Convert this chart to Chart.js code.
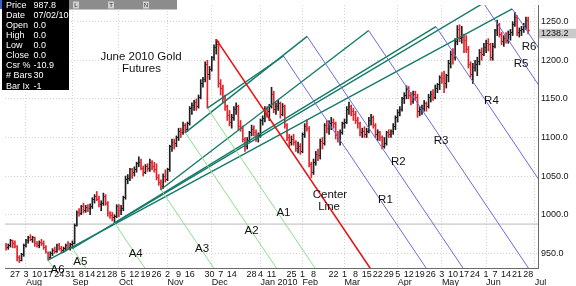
<!DOCTYPE html>
<html>
<head>
<meta charset="utf-8">
<script src="https://cdn.jsdelivr.net/npm/chart.js@4"></script>
<style>
  html, body { margin: 0; padding: 0; background: #fff; }
</style>
</head>
<body>
<canvas id="chart" width="576" height="286"></canvas>
<script>
// trading calendar
const startDate = '2009-07-20';
const endDate = '2010-07-02';
const holidays = ['2009-09-07', '2009-11-26', '2009-12-25', '2010-01-01', '2010-01-18', '2010-02-15', '2010-04-02', '2010-05-31'];

// labelled week ticks and month labels
const weekTicks = ['2009-07-27', '2009-08-03', '2009-08-10', '2009-08-17', '2009-08-24', '2009-08-31', '2009-09-08', '2009-09-14',
    '2009-09-21', '2009-09-28', '2009-10-05', '2009-10-12', '2009-10-19', '2009-10-26', '2009-11-02', '2009-11-09', '2009-11-16',
    '2009-11-30', '2009-12-07', '2009-12-14', '2009-12-28', '2010-01-04', '2010-01-11', '2010-01-25', '2010-02-01', '2010-02-08',
    '2010-02-22', '2010-03-01', '2010-03-08', '2010-03-15', '2010-03-22', '2010-03-29', '2010-04-05', '2010-04-12', '2010-04-19',
    '2010-04-26', '2010-05-03', '2010-05-10', '2010-05-17', '2010-05-24', '2010-06-01', '2010-06-07', '2010-06-14', '2010-06-21',
    '2010-06-28'];
const monthStarts = ['2009-08-03', '2009-09-01', '2009-10-01', '2009-11-02', '2009-12-01', '2010-01-04', '2010-02-01', '2010-03-01',
    '2010-04-05', '2010-05-03', '2010-06-01', '2010-07-01'];
const monthNames = ['Aug', 'Sep', 'Oct', 'Nov', 'Dec', 'Jan 2010', 'Feb', 'Mar', 'Apr', 'May', 'Jun', 'Jul'];
const priceTicks = [950, 1000, 1050, 1100, 1150, 1200, 1250];

// daily bars, one per trading day from startDate
const opens = [
    955, 960, 957, 960, 966, 962, 959, 944, 941, 948, 960, 966, 970, 968, 970, 962, 960, 964, 963, 957,
    950, 944, 950, 954, 952, 960, 956, 953, 956, 960, 958, 961, 963, 986, 1003, 1002, 1010, 1006, 1009, 1008,
    1011, 1020, 1024, 1020, 1013, 1015, 1024, 1015, 1002, 999, 996, 998, 1011, 1006, 1008, 1022, 1046, 1047, 1058, 1054,
    1058, 1066, 1068, 1060, 1055, 1062, 1060, 1067, 1063, 1058, 1048, 1042, 1036, 1050, 1046, 1058, 1088, 1094, 1092, 1100,
    1108, 1106, 1116, 1110, 1118, 1138, 1142, 1145, 1140, 1152, 1170, 1175, 1195, 1182, 1188, 1203, 1217, 1220, 1170, 1163,
    1150, 1140, 1128, 1120, 1126, 1136, 1140, 1114, 1112, 1098, 1088, 1096, 1106, 1110, 1106, 1100, 1102, 1122, 1124, 1136,
    1134, 1140, 1156, 1136, 1140, 1144, 1130, 1140, 1116, 1100, 1094, 1098, 1094, 1086, 1088, 1082, 1104, 1114, 1112, 1065,
    1055, 1068, 1078, 1076, 1095, 1092, 1116, 1112, 1118, 1120, 1118, 1102, 1098, 1106, 1118, 1120, 1136, 1140, 1134, 1130,
    1122, 1118, 1106, 1108, 1104, 1108, 1122, 1126, 1116, 1104, 1106, 1100, 1088, 1092, 1106, 1104, 1108, 1114, 1126, 1132,
    1136, 1150, 1154, 1162, 1154, 1146, 1156, 1152, 1134, 1136, 1138, 1144, 1140, 1152, 1156, 1152, 1164, 1168, 1178, 1176,
    1170, 1180, 1196, 1208, 1204, 1224, 1240, 1228, 1230, 1226, 1214, 1195, 1182, 1190, 1194, 1198, 1210, 1208, 1216, 1222,
    1220, 1204, 1218, 1238, 1246, 1234, 1224, 1228, 1226, 1234, 1236, 1246, 1256, 1236, 1238, 1240, 1244, 1252];
const highs = [
    962, 963, 962, 968, 967, 966, 960, 947, 950, 962, 968, 972, 974, 972, 971, 965, 966, 968, 966, 960,
    952, 952, 956, 958, 962, 963, 959, 958, 962, 965, 963, 966, 988, 1005, 1008, 1012, 1015, 1012, 1013, 1014,
    1022, 1026, 1030, 1024, 1018, 1028, 1026, 1017, 1004, 1003, 1000, 1013, 1013, 1012, 1024, 1050, 1052, 1060, 1060, 1062,
    1068, 1075, 1072, 1063, 1065, 1066, 1072, 1070, 1068, 1066, 1052, 1045, 1053, 1058, 1060, 1090, 1098, 1098, 1102, 1112,
    1112, 1120, 1118, 1120, 1140, 1145, 1148, 1150, 1155, 1175, 1178, 1198, 1200, 1192, 1205, 1220, 1227, 1225, 1175, 1168,
    1155, 1142, 1135, 1130, 1140, 1145, 1142, 1122, 1115, 1100, 1100, 1108, 1116, 1115, 1110, 1106, 1124, 1128, 1140, 1140,
    1143, 1165, 1160, 1145, 1148, 1146, 1144, 1142, 1118, 1104, 1102, 1104, 1096, 1094, 1092, 1106, 1118, 1123, 1114, 1068,
    1072, 1082, 1085, 1098, 1100, 1118, 1122, 1122, 1126, 1124, 1120, 1108, 1110, 1120, 1124, 1140, 1146, 1142, 1138, 1134,
    1126, 1120, 1112, 1114, 1112, 1126, 1130, 1128, 1118, 1110, 1108, 1102, 1100, 1108, 1110, 1110, 1118, 1128, 1136, 1140,
    1152, 1158, 1167, 1166, 1158, 1160, 1160, 1156, 1140, 1142, 1148, 1146, 1156, 1160, 1162, 1168, 1170, 1180, 1184, 1186,
    1182, 1200, 1212, 1215, 1228, 1245, 1246, 1244, 1234, 1232, 1218, 1198, 1196, 1200, 1204, 1214, 1216, 1222, 1226, 1228,
    1222, 1222, 1240, 1252, 1248, 1236, 1232, 1236, 1238, 1240, 1250, 1262, 1258, 1242, 1244, 1248, 1256, 1256];
const lows = [
    953, 954, 955, 958, 957, 957, 940, 938, 940, 946, 958, 963, 966, 964, 959, 958, 957, 960, 955, 950,
    941, 943, 947, 950, 951, 954, 950, 951, 953, 955, 954, 956, 962, 985, 998, 1000, 1002, 1003, 1004, 1000,
    1008, 1015, 1018, 1010, 1005, 1012, 1012, 998, 995, 992, 989, 996, 997, 1000, 1005, 1020, 1040, 1044, 1047, 1050,
    1055, 1062, 1058, 1050, 1053, 1056, 1056, 1058, 1055, 1045, 1038, 1032, 1034, 1042, 1044, 1056, 1082, 1085, 1088, 1096,
    1100, 1104, 1106, 1108, 1116, 1130, 1135, 1135, 1138, 1150, 1165, 1172, 1138, 1175, 1186, 1200, 1208, 1165, 1155, 1145,
    1135, 1122, 1115, 1112, 1122, 1130, 1110, 1108, 1094, 1082, 1085, 1094, 1102, 1102, 1095, 1094, 1100, 1116, 1120, 1126,
    1122, 1138, 1132, 1130, 1135, 1125, 1128, 1112, 1096, 1088, 1090, 1090, 1082, 1080, 1078, 1080, 1100, 1108, 1062, 1048,
    1052, 1064, 1070, 1072, 1085, 1090, 1106, 1104, 1110, 1112, 1098, 1094, 1090, 1104, 1112, 1118, 1130, 1128, 1122, 1118,
    1112, 1102, 1100, 1100, 1100, 1106, 1116, 1112, 1100, 1096, 1096, 1085, 1086, 1090, 1100, 1100, 1104, 1110, 1120, 1128,
    1134, 1144, 1150, 1150, 1142, 1144, 1148, 1126, 1128, 1130, 1134, 1134, 1138, 1146, 1148, 1150, 1158, 1162, 1170, 1158,
    1164, 1172, 1190, 1195, 1200, 1220, 1224, 1222, 1210, 1210, 1190, 1178, 1170, 1186, 1180, 1194, 1200, 1206, 1210, 1212,
    1200, 1200, 1216, 1232, 1230, 1220, 1218, 1222, 1222, 1226, 1232, 1244, 1232, 1230, 1232, 1236, 1240, 1234];
const closes = [
    960, 957, 960, 966, 962, 959, 944, 941, 948, 960, 966, 970, 968, 970, 962, 960, 964, 963, 957, 952,
    944, 950, 954, 952, 960, 956, 953, 956, 960, 958, 961, 963, 986, 1003, 1002, 1010, 1006, 1009, 1008, 1011,
    1020, 1024, 1020, 1013, 1015, 1024, 1015, 1002, 999, 996, 998, 1011, 1006, 1008, 1022, 1046, 1047, 1058, 1054, 1058,
    1066, 1068, 1060, 1055, 1062, 1060, 1067, 1063, 1058, 1048, 1042, 1036, 1050, 1046, 1058, 1088, 1094, 1092, 1100, 1108,
    1106, 1116, 1110, 1118, 1138, 1142, 1145, 1140, 1152, 1170, 1175, 1195, 1182, 1188, 1203, 1217, 1220, 1170, 1163, 1150,
    1140, 1128, 1120, 1126, 1136, 1140, 1114, 1112, 1098, 1088, 1096, 1106, 1110, 1106, 1100, 1102, 1122, 1124, 1136, 1134,
    1140, 1156, 1136, 1140, 1144, 1130, 1140, 1116, 1100, 1094, 1098, 1094, 1086, 1088, 1082, 1104, 1114, 1112, 1065, 1055,
    1068, 1078, 1076, 1095, 1092, 1116, 1112, 1118, 1120, 1118, 1102, 1098, 1106, 1118, 1120, 1136, 1140, 1134, 1130, 1122,
    1118, 1106, 1108, 1104, 1108, 1122, 1126, 1116, 1104, 1106, 1100, 1088, 1092, 1106, 1104, 1108, 1114, 1126, 1132, 1136,
    1150, 1154, 1162, 1154, 1146, 1156, 1152, 1134, 1136, 1138, 1144, 1140, 1152, 1156, 1152, 1164, 1168, 1178, 1176, 1170,
    1180, 1196, 1208, 1204, 1224, 1240, 1228, 1230, 1226, 1214, 1195, 1182, 1190, 1194, 1198, 1210, 1208, 1216, 1222, 1220,
    1204, 1218, 1238, 1246, 1234, 1224, 1228, 1226, 1234, 1236, 1246, 1256, 1236, 1238, 1240, 1244, 1252, 1238.2];

// pitchfork drawing
const forkSlope = -4.26;               // $ per trading day, shared by the red, green and blue lines
const centerDate = '2009-12-03';
const centerPrice = 1227.1;
const supportDates = ['2009-11-27', '2009-11-12', '2009-10-28', '2009-09-29', '2009-09-01', '2009-08-17'];
const supportPrices = [1138.1, 1106.3, 1032.6, 989.4, 956.4, 941.1];
const resistBars = [126.4, 137.1, 164.9, 195.3, 216.8, 229.8];
const resistPrices = [1205.5, 1230.9, 1238.5, 1243.6, 1274.1, 1266.5];

const lineLabels = ['A1', 'A2', 'A3', 'A4', 'A5', 'A6', 'Center', 'Line', 'R1', 'R2', 'R3', 'R4', 'R5', 'R6'];
const labelBars = [126.4, 112.0, 89.6, 59.6, 34.6, 24.3, 147.4, 147.0, 172.5, 178.3, 197.6, 220.4, 233.8, 237.4];
const labelPrices = [1002, 979, 956, 949, 939, 928, 1026, 1010, 1019, 1068, 1095, 1147, 1195, 1218];

const infoNames = ['Price', 'Date', 'Open', 'High', 'Low', 'Close', 'Csr %', '# Bars', 'Bar Ix'];
const infoValues = ['987.8', '07/02/10', '0.0', '0.0', '0.0', '0.0', '-10.9', '30', '-1'];
const cursorPrice = 987.8;

const xMin = 0.52, xMax = 241.45;
const yMin = 930.9, yMax = 1271.6;

function buildDays() {
    const out = [];
    const d = new Date(startDate + 'T00:00:00Z');
    const end = new Date(endDate + 'T00:00:00Z');
    while (d <= end) {
        const s = d.toISOString().slice(0, 10);
        const wd = d.getUTCDay();
        if (wd !== 0 && wd !== 6 && !holidays.includes(s)) out.push(s);
        d.setUTCDate(d.getUTCDate() + 1);
    }
    return out;
}
const days = buildDays();
const dayIndex = s => days.indexOf(s);

const upColor = '#1e1e1e';
const downColor = '#e2232b';

function tickImage(color, left) {
    const c = document.createElement('canvas');
    c.width = 3;
    c.height = 1;
    const g = c.getContext('2d');
    g.fillStyle = color;
    g.fillRect(left ? 0 : 2, 0, 1, 1);
    return c;
}
const openUp = tickImage(upColor, true), openDown = tickImage(downColor, true);
const closeUp = tickImage(upColor, false), closeDown = tickImage(downColor, false);
const isUp = closes.map((c, i) => c >= opens[i]);

function ray(bar, price) {
    const len = 120;
    return [{x: bar, y: price}, {x: bar + len, y: price + forkSlope * len}];
}

function lineSet(data, color, width, order) {
    return {
        type: 'line', data: data, borderColor: color, borderWidth: width,
        pointRadius: 0, fill: false, tension: 0, order: order || 1,
        xAxisID: 'x', yAxisID: 'y'
    };
}

const datasets = [];
// red center line
datasets.push(lineSet(ray(dayIndex(centerDate), centerPrice), '#e41414', 1.6));
supportDates.forEach((d, i) => {
    const b = dayIndex(d);
    datasets.push(lineSet([{x: b, y: supportPrices[i]}, {x: resistBars[i], y: resistPrices[i]}], '#147a68', 1.4));
    datasets.push(lineSet(ray(b, supportPrices[i]), '#8ade8a', 1));
    datasets.push(lineSet(ray(resistBars[i], resistPrices[i]), '#6b6bdc', 1));
});
// cursor line
datasets.push(lineSet([{x: xMin, y: cursorPrice}, {x: xMax, y: cursorPrice}], '#b8b8b8', 1, 3));

datasets.push({
    type: 'bar',
    data: highs.map((h, i) => ({x: i, y: [lows[i], h]})),
    backgroundColor: isUp.map(u => u ? upColor : downColor),
    barThickness: 1,
    order: 2,
    xAxisID: 'x', yAxisID: 'y'
});
datasets.push({
    type: 'scatter',
    data: opens.map((o, i) => ({x: i, y: o})),
    pointStyle: isUp.map(u => u ? openUp : openDown),
    pointRadius: 1,
    order: 2,
    xAxisID: 'x', yAxisID: 'y'
});
datasets.push({
    type: 'scatter',
    data: closes.map((c, i) => ({x: i, y: c})),
    pointStyle: isUp.map(u => u ? closeUp : closeDown),
    pointRadius: 1,
    order: 2,
    xAxisID: 'x', yAxisID: 'y'
});

const overlay = {
    id: 'overlay',
    afterDraw(chart) {
        const ctx = chart.ctx;
        const x = chart.scales.x, y = chart.scales.y;
        ctx.save();

        // line labels
        ctx.fillStyle = '#111';
        ctx.font = '11.5px Arial, "Liberation Sans", sans-serif';
        ctx.textAlign = 'center';
        ctx.textBaseline = 'middle';
        lineLabels.forEach((t, i) => {
            ctx.fillText(t, x.getPixelForValue(labelBars[i]), y.getPixelForValue(labelPrices[i]));
        });

        // title
        ctx.fillText('June 2010 Gold', 141, 57);
        ctx.fillText('Futures', 141.5, 69);

        // event strip at the top
        ctx.fillStyle = '#8c8c8c';
        ctx.fillRect(68, 0, 109, 9.5);
        ctx.font = '6px Arial, "Liberation Sans", sans-serif';
        [['L', 73], ['T', 108], ['N', 143]].forEach(m => {
            ctx.fillStyle = '#cfcfcf';
            ctx.fillRect(m[1], 1.5, 6, 7);
            ctx.fillStyle = '#333';
            ctx.fillText(m[0], m[1] + 3, 5);
        });

        // cursor info box
        ctx.fillStyle = '#3d63c8';
        ctx.fillRect(0, 0, 2, 9);
        ctx.fillStyle = '#000';
        ctx.fillRect(2, 0, 67, 90);
        ctx.fillStyle = '#fff';
        ctx.font = '9px Arial, "Liberation Sans", sans-serif';
        ctx.textAlign = 'left';
        infoNames.forEach((n, i) => {
            const yy = 5.3 + i * 10.1;
            ctx.fillText(n, 6, yy);
            ctx.fillText(infoValues[i], 33.5, yy);
        });

        // last price tag on the axis
        const last = closes[closes.length - 1];
        const py = y.getPixelForValue(last) + 2.5;
        ctx.fillStyle = '#c9c9c9';
        ctx.fillRect(539, py - 4.5, 37, 9.5);
        ctx.fillStyle = '#111';
        ctx.font = '9px Arial, "Liberation Sans", sans-serif';
        ctx.fillText(last.toFixed(1), 541, py);

        ctx.restore();
    }
};

Chart.defaults.font.family = 'Arial, "Liberation Sans", sans-serif';
Chart.defaults.color = '#111';

new Chart(document.getElementById('chart'), {
    type: 'scatter',
    data: { datasets: datasets },
    options: {
        responsive: false,
        animation: false,
        events: [],
        layout: { padding: 0 },
        plugins: {
            legend: { display: false },
            tooltip: { enabled: false }
        },
        scales: {
            x: {
                type: 'linear', axis: 'x', position: 'bottom', weight: 0,
                min: xMin, max: xMax, offset: false,
                afterBuildTicks: s => { s.ticks = weekTicks.map(d => ({value: dayIndex(d)})); },
                afterFit: s => { s.height = 11; s.paddingLeft = 0; s.paddingRight = 0; },
                grid: { display: false, drawTicks: false },
                border: { display: true, color: '#6a6a6a' },
                ticks: {
                    autoSkip: false, maxRotation: 0, minRotation: 0, padding: 2.5,
                    font: { size: 9, lineHeight: 1 },
                    callback: v => String(Number(days[v].slice(8)))
                }
            },
            xm: {
                type: 'linear', axis: 'x', position: 'bottom', weight: 1,
                min: xMin, max: xMax, offset: false,
                afterBuildTicks: s => { s.ticks = monthStarts.map(d => ({value: dayIndex(d)})); },
                afterFit: s => { s.height = 7; s.paddingLeft = 0; s.paddingRight = 0; },
                grid: { color: '#d4d4d4', drawTicks: false, drawOnChartArea: true },
                border: { display: false, dash: [1, 2] },
                ticks: {
                    autoSkip: false, maxRotation: 0, minRotation: 0, align: 'start', padding: 0,
                    font: { size: 9, lineHeight: 0.8 },
                    callback: (v, i) => monthNames[i]
                }
            },
            y: {
                type: 'linear', axis: 'y', position: 'right',
                min: yMin, max: yMax,
                afterBuildTicks: s => { s.ticks = priceTicks.map(v => ({value: v})); },
                afterFit: s => { s.width = 38; s.paddingTop = 0; s.paddingBottom = 0; },
                grid: { color: '#d4d4d4', drawTicks: false },
                border: { display: true, color: '#6a6a6a', dash: [1, 2] },
                ticks: {
                    padding: 3,
                    font: { size: 9 },
                    callback: v => v.toFixed(1)
                }
            }
        }
    },
    plugins: [overlay]
});
</script>
</body>
</html>
